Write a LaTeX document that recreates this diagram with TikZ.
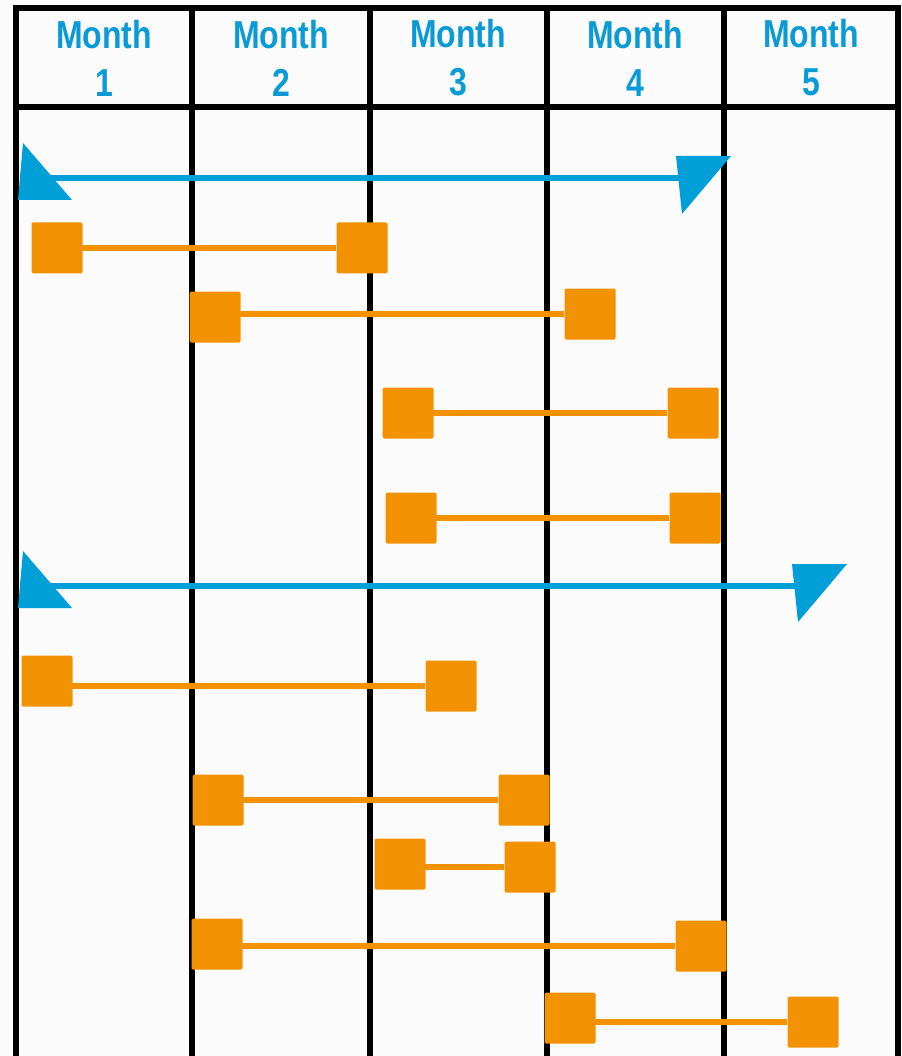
\documentclass[tikz,border=0pt]{standalone}
\usepackage{fontspec}
\newfontfamily\headfont[FakeStretch=0.82]{Liberation Sans}
\definecolor{monthblue}{HTML}{0A9BD7}
\definecolor{arrowblue}{HTML}{009FD8}
\definecolor{taskorange}{HTML}{F39200}
\begin{document}
\begin{tikzpicture}[x=1pt,y=-1pt,
  rule/.style={line width=5.5pt,black},
  month/.style={text=monthblue,align=center,font=\headfont\bfseries\fontsize{39}{48}\selectfont},
  task/.style={fill=taskorange,minimum size=51pt,inner sep=0pt,rounded corners=1.5pt},
  taskbar/.style={draw=taskorange,line width=6pt},
  spanbar/.style={draw=arrowblue,line width=6pt}]
\useasboundingbox (0,0) rectangle (901,1056);
\fill[gray!3] (0,0) rectangle (901,1056);
\draw[rule] (16,1056) |- (898,8) -- (898,1056);
\draw[rule] (16,107) -- (898,107);
\foreach \x in {192,370,547,724} \draw[rule] (\x,8) -- (\x,1056);
\foreach \i/\x in {1/104,2/281,3/458,4/635,5/811}
  \node[month] (m\i) at (\x,58) {Month\\\i};
\foreach \n/\y/\xe in {1/178/731,2/586/847}{
  \coordinate (s\n) at (18,\y); \coordinate (e\n) at (\xe,\y);
  \draw[spanbar,shorten <=2pt,shorten >=40pt] (s\n) -- (e\n);
  \fill[arrowblue] (s\n) ++(5,-35) -- ++(-5,57) -- ++(54,0) -- cycle;
  \fill[arrowblue] (e\n) ++(-55,-22) -- ++(55,0) -- ++(-49,58) -- cycle;
}
\foreach \i/\xa/\ya/\xb/\yb in {1/57/248/362/248,2/215/317/590/314,3/408/413/693/413,
    4/411/518/695/518,5/47/681/451/686,6/218/800/524/800,7/400/864/530/867,
    8/217/944/701/946,9/570/1018/813/1022}{
  \node[task] (a\i) at (\xa,\ya) {};
  \node[task] (b\i) at (\xb,\yb) {};
  \draw[taskbar] (b\i -| a\i) -- (b\i);
}
\end{tikzpicture}
\end{document}
